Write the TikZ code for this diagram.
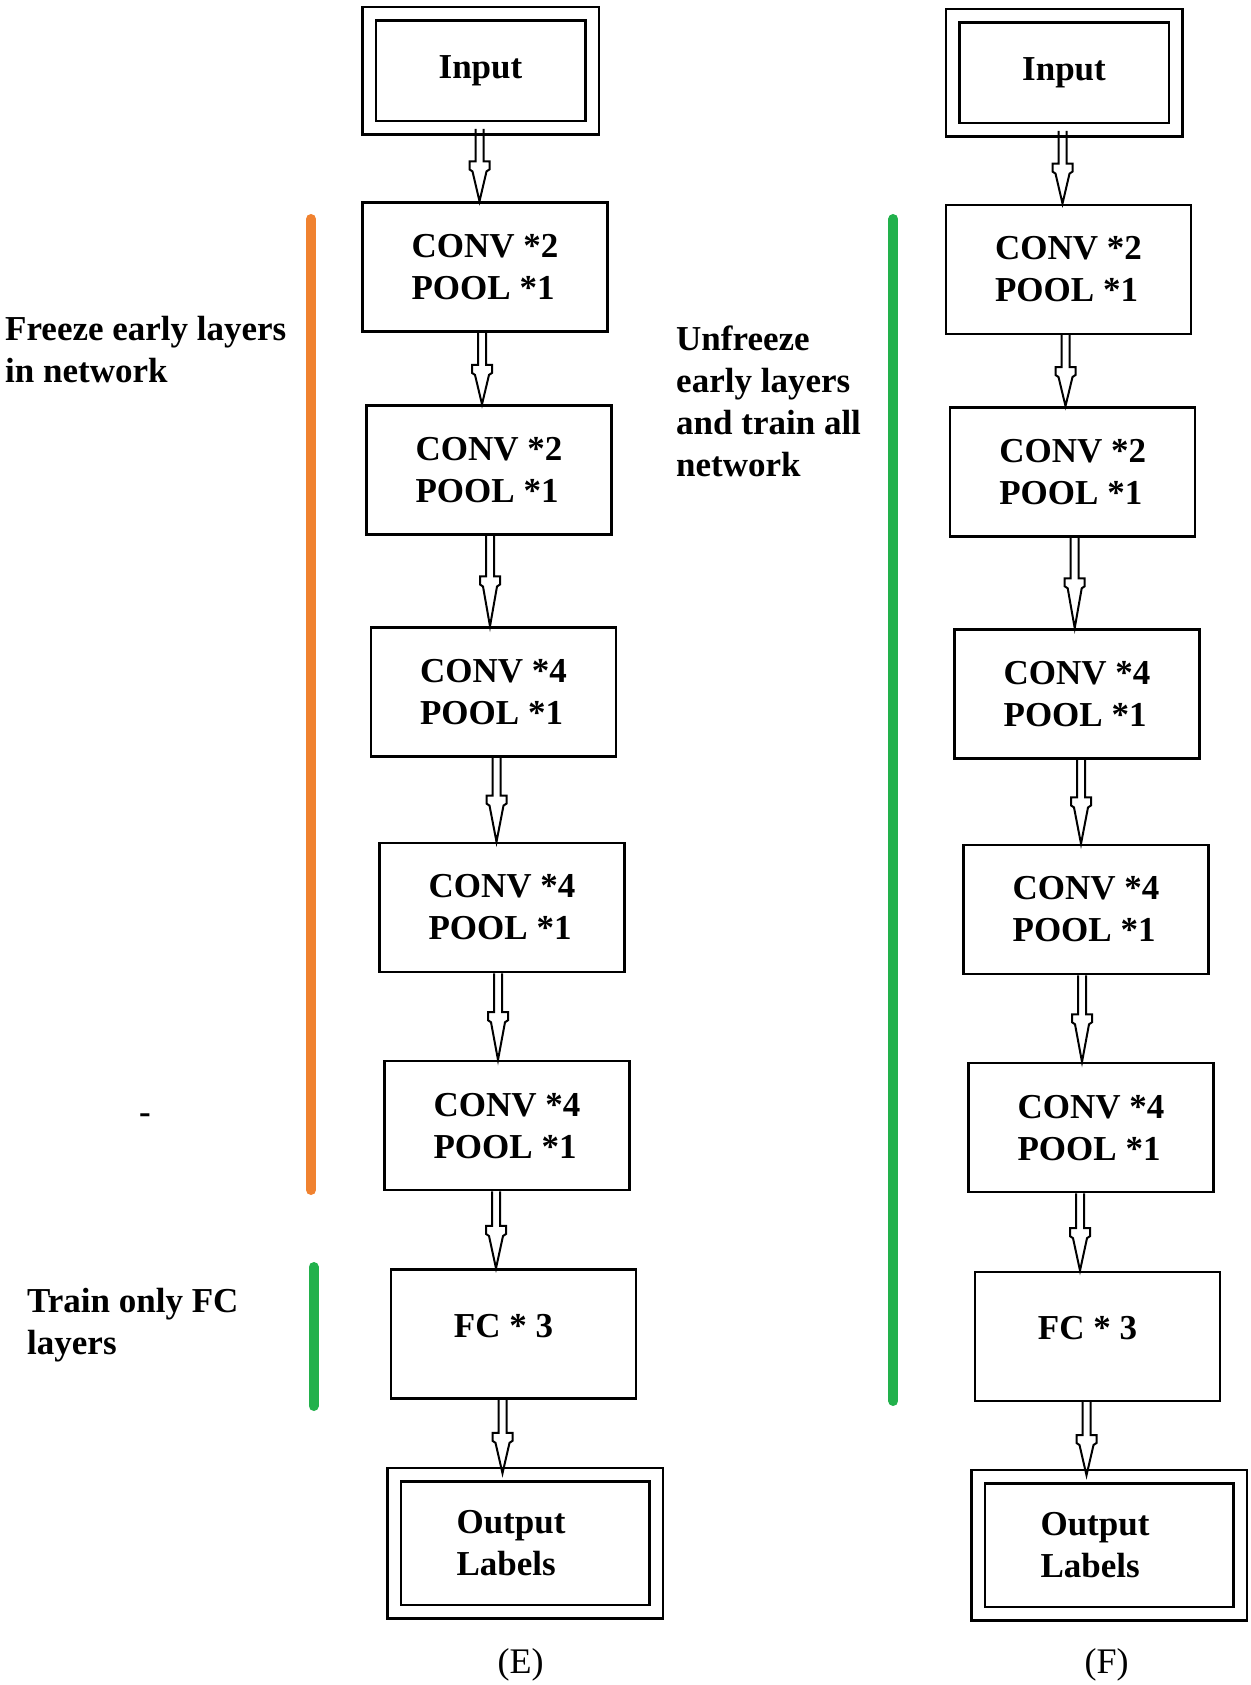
\documentclass[tikz,border=0pt]{standalone}
\usepackage{fontspec}
\setmainfont{Liberation Serif}
\usetikzlibrary{calc}

\definecolor{freezeorange}{RGB}{240,130,48}
\definecolor{traingreen}{RGB}{34,177,76}

\tikzset{
  layerbox/.style={draw, line width=2.5pt, minimum width=245pt, minimum height=129pt,
    inner sep=0pt, align=left, font=\bfseries\fontsize{35}{42}\selectfont},
  ioblock/.style={layerbox, double, double distance=11pt},
  boxtext/.style={align=left, inner sep=0pt, font=\bfseries\fontsize{35}{42}\selectfont},
  note/.style={anchor=west, align=left, inner sep=0pt, font=\bfseries\fontsize{35}{42}\selectfont},
  caption/.style={font=\fontsize{36}{42}\selectfont},
  flowline/.style={draw, line width=2pt, line join=miter},
  bar/.style={line width=10pt, line cap=round}
}

% hollow block arrow from the bottom of #2 to the top of #3, shifted by #1
\newcommand{\flowarrow}[3][0]{%
  \path[flowline] let \p1=(#2.south), \p2=(#3.north),
      \n1={0.45*(\y1-\y2)}, \n2={\x1+(#1pt)} in
    ({\n2*1pt-4pt},\y1) -- ({\n2*1pt-4pt},{\y1-\n1*1pt})
    -- ({\n2*1pt-10pt},{\y1-\n1*1pt}) -- ({\n2*1pt-10pt},{\y1-\n1*1pt-8pt})
    -- ({\n2*1pt-7pt},{\y1-\n1*1pt-10pt}) -- ({\n2*1pt},\y2)
    -- ({\n2*1pt+7pt},{\y1-\n1*1pt-10pt}) -- ({\n2*1pt+10pt},{\y1-\n1*1pt-8pt})
    -- ({\n2*1pt+10pt},{\y1-\n1*1pt}) -- ({\n2*1pt+4pt},{\y1-\n1*1pt})
    -- ({\n2*1pt+4pt},\y1);
}

\begin{document}
\begin{tikzpicture}[x=1pt, y=-1pt]
    \useasboundingbox (0,0) rectangle (1250,1685);

    % column (E)
    \node[ioblock, minimum width=223pt, minimum height=114pt] (inE) at (480.5,70.6) {Input};
    \node[layerbox] (c1E) at (485,267) {CONV *2\\POOL *1};
    \node[layerbox] (c2E) at (489,470) {CONV *2\\POOL *1};
    \node[layerbox] (c3E) at (493.5,692) {CONV *4\\POOL *1};
    \node[layerbox] (c4E) at (502,907.5) {CONV *4\\POOL *1};
    \node[layerbox] (c5E) at (507,1125.6) {CONV *4\\POOL *1};
    \node[layerbox, label={[boxtext, xshift=-10pt, yshift=8pt]center:FC * 3}] (fcE) at (513.5,1334) {};
    \node[ioblock, minimum width=262pt, minimum height=137pt,
      label={[boxtext, xshift=-14pt]center:Output\\Labels}] (outE) at (525,1543) {};
    \node[caption] (capE) at (520.5,1665) {(E)};

    % column (F)
    \node[ioblock, minimum width=223pt, minimum height=114pt] (inF) at (1064,72.7) {Input};
    \node[layerbox] (c1F) at (1068.5,269.3) {CONV *2\\POOL *1};
    \node[layerbox] (c2F) at (1072.7,471.8) {CONV *2\\POOL *1};
    \node[layerbox] (c3F) at (1077,693.8) {CONV *4\\POOL *1};
    \node[layerbox] (c4F) at (1086,909.5) {CONV *4\\POOL *1};
    \node[layerbox] (c5F) at (1091,1127.7) {CONV *4\\POOL *1};
    \node[layerbox, label={[boxtext, xshift=-10pt, yshift=8pt]center:FC * 3}] (fcF) at (1097.5,1336.3) {};
    \node[ioblock, minimum width=262pt, minimum height=137pt,
      label={[boxtext, xshift=-14pt]center:Output\\Labels}] (outF) at (1109,1545) {};
    \node[caption] (capF) at (1106.7,1665) {(F)};

    % arrows
    \flowarrow[-1]{inE}{c1E}
    \flowarrow[-3]{c1E}{c2E}
    \flowarrow[1]{c2E}{c3E}
    \flowarrow[3]{c3E}{c4E}
    \flowarrow[-4]{c4E}{c5E}
    \flowarrow[-11]{c5E}{fcE}
    \flowarrow[-11]{fcE}{outE}
    \flowarrow[-1.5]{inF}{c1F}
    \flowarrow[-3]{c1F}{c2F}
    \flowarrow[2]{c2F}{c3F}
    \flowarrow[4]{c3F}{c4F}
    \flowarrow[-4]{c4F}{c5F}
    \flowarrow[-11]{c5F}{fcF}
    \flowarrow[-11]{fcF}{outF}

    % side bars and notes
    \draw[bar, freezeorange] (311,219) -- (311,1190);
    \draw[bar, traingreen] (313.6,1267) -- (313.6,1406);
    \draw[bar, traingreen] (893.3,219) -- (893.3,1401);

    \node[note] (freezeE) at (5,350) {Freeze early layers\\in network};
    \node[note] (trainE) at (27,1325) {Train only FC\\layers};
    \node[note] (unfreezeF) at (676,401) {Unfreeze\\early layers\\and train all\\network};
    \node[note] (dash) at (139,1119) {-};
\end{tikzpicture}
\end{document}
